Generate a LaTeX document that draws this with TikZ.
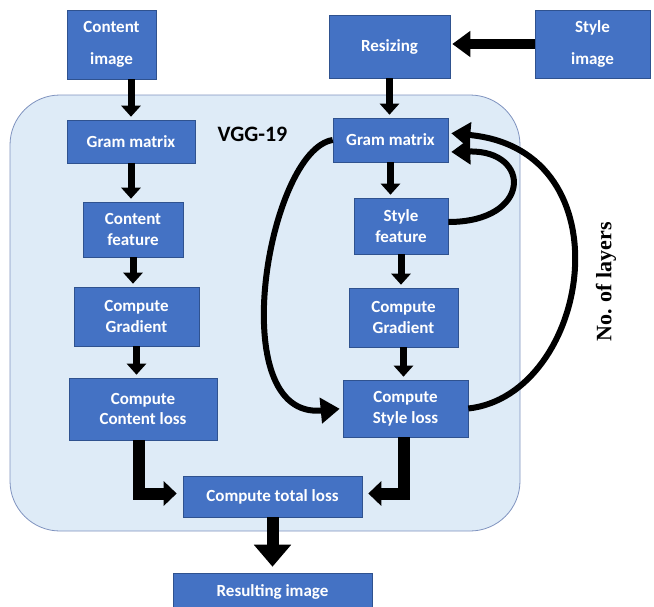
\documentclass[tikz,border=0pt]{standalone}
\usepackage{fontspec}
\setmainfont{Carlito}
\newfontfamily\serifbold{Liberation Serif}
\usetikzlibrary{arrows.meta}
\definecolor{boxblue}{HTML}{4472C4}
\definecolor{boxline}{HTML}{2F528F}
\definecolor{panelfill}{HTML}{DEEBF7}
\definecolor{panelline}{HTML}{7F93BF}

\begin{document}
\begin{tikzpicture}[x=1pt,y=-1pt,
  box/.style={draw=boxline, line width=0.6pt, fill=boxblue, text=white,
    align=center, inner sep=0pt, font=\fontsize{17}{20.7}\selectfont\bfseries},
  flow/.style={line width=7pt, -{Triangle[width=19pt,length=11pt]}, shorten >=3pt},
  side/.style={line width=10pt, -{Triangle[width=25pt,length=18pt]}, shorten >=2pt},
  elbow/.style={line width=12pt, line join=miter, -{Triangle[width=24pt,length=13pt]}, shorten >=6pt},
  outflow/.style={line width=12pt, -{Triangle[width=36pt,length=22pt]}, shorten >=6pt},
  loopback/.style={line width=6pt, -{Triangle[width=25pt,length=19pt]}, shorten >=3pt}
]
\useasboundingbox (0,0) rectangle (654,606);

% VGG-19 panel
\draw[draw=panelline, fill=panelfill, line width=0.8pt, rounded corners=50pt]
  (10,95) rectangle (520,531);
\node[font=\fontsize{22}{26}\selectfont\bfseries] (vgg) at (252.5,134) {VGG-19};

% inputs
\node[box, minimum width=89pt, minimum height=69pt] (cimg) at (111.5,44.5) {Content\\[12pt]image};
\node[box, minimum width=121pt, minimum height=63pt] (resize) at (389.5,46.5) {Resizing};
\node[box, minimum width=115pt, minimum height=68pt] (simg) at (592.5,44) {Style\\[12pt]image};

% content branch
\node[box, minimum width=128pt, minimum height=43pt] (gramL) at (131,141.5) {Gram matrix};
\node[box, minimum width=100pt, minimum height=55pt] (cfeat) at (133,229.5) {Content\\feature};
\node[box, minimum width=125pt, minimum height=59pt] (cgradL) at (136.5,316.5) {Compute\\Gradient};
\node[box, minimum width=148pt, minimum height=62pt] (closs) at (143,409) {Compute\\Content loss};

% style branch
\node[box, minimum width=115pt, minimum height=44pt] (gramR) at (390.5,140) {Gram matrix};
\node[box, minimum width=94pt, minimum height=56pt] (sfeat) at (401,226) {Style\\feature};
\node[box, minimum width=109pt, minimum height=59pt] (cgradR) at (403.5,317.5) {Compute\\Gradient};
\node[box, minimum width=125pt, minimum height=57pt] (sloss) at (405.5,408.5) {Compute\\Style loss};

% merge and output
\node[box, minimum width=179pt, minimum height=41pt] (total) at (272.5,496.5) {Compute total loss};
\node[box, minimum width=199pt, minimum height=37pt] (result) at (272.5,591.5) {Resulting image};

% layer count label
\node[rotate=90, font={\serifbold\fontsize{22}{26}\selectfont\bfseries}] (nlayers) at (606,282) {No. of layers};

% straight connectors
\draw[side] (simg.west) -- (simg.west -| resize.east);
\draw[flow] (cimg.south -| gramL.north) -- (gramL.north);
\draw[flow] (resize.south) -- (resize.south |- gramR.north);
\draw[flow] (gramL.south) -- (gramL.south |- cfeat.north);
\draw[flow] (cfeat.south) -- (cfeat.south |- cgradL.north);
\draw[flow] (cgradL.south) -- (cgradL.south |- closs.north);
\draw[flow] (gramR.south) -- (gramR.south |- sfeat.north);
\draw[flow] (sfeat.south) -- (sfeat.south |- cgradR.north);
\draw[flow] (cgradR.south) -- (cgradR.south |- sloss.north);

% losses into the total
\coordinate (clossOut) at ([xshift=-4pt]closs.south);
\coordinate (slossOut) at ([xshift=-2pt]sloss.south);
\draw[elbow] (clossOut) |- ([yshift=3pt]total.west);
\draw[elbow] (slossOut) |- ([yshift=3pt]total.east);
\draw[outflow] (total.south) -- (result.north);

% feedback loops over the layers
\coordinate (inLow) at ([yshift=-12pt]gramR.east);
\coordinate (inHigh) at ([yshift=7pt]gramR.east);
\draw[loopback] (gramR.west) .. controls (268,150) and (222,420) .. (sloss.west);
\draw[loopback] ([yshift=4pt]sfeat.east) .. controls (532,222) and (532,150) .. (inLow);
\draw[loopback] (sloss.east) .. controls (590,395) and (630,150) .. (inHigh);
\end{tikzpicture}
\end{document}
